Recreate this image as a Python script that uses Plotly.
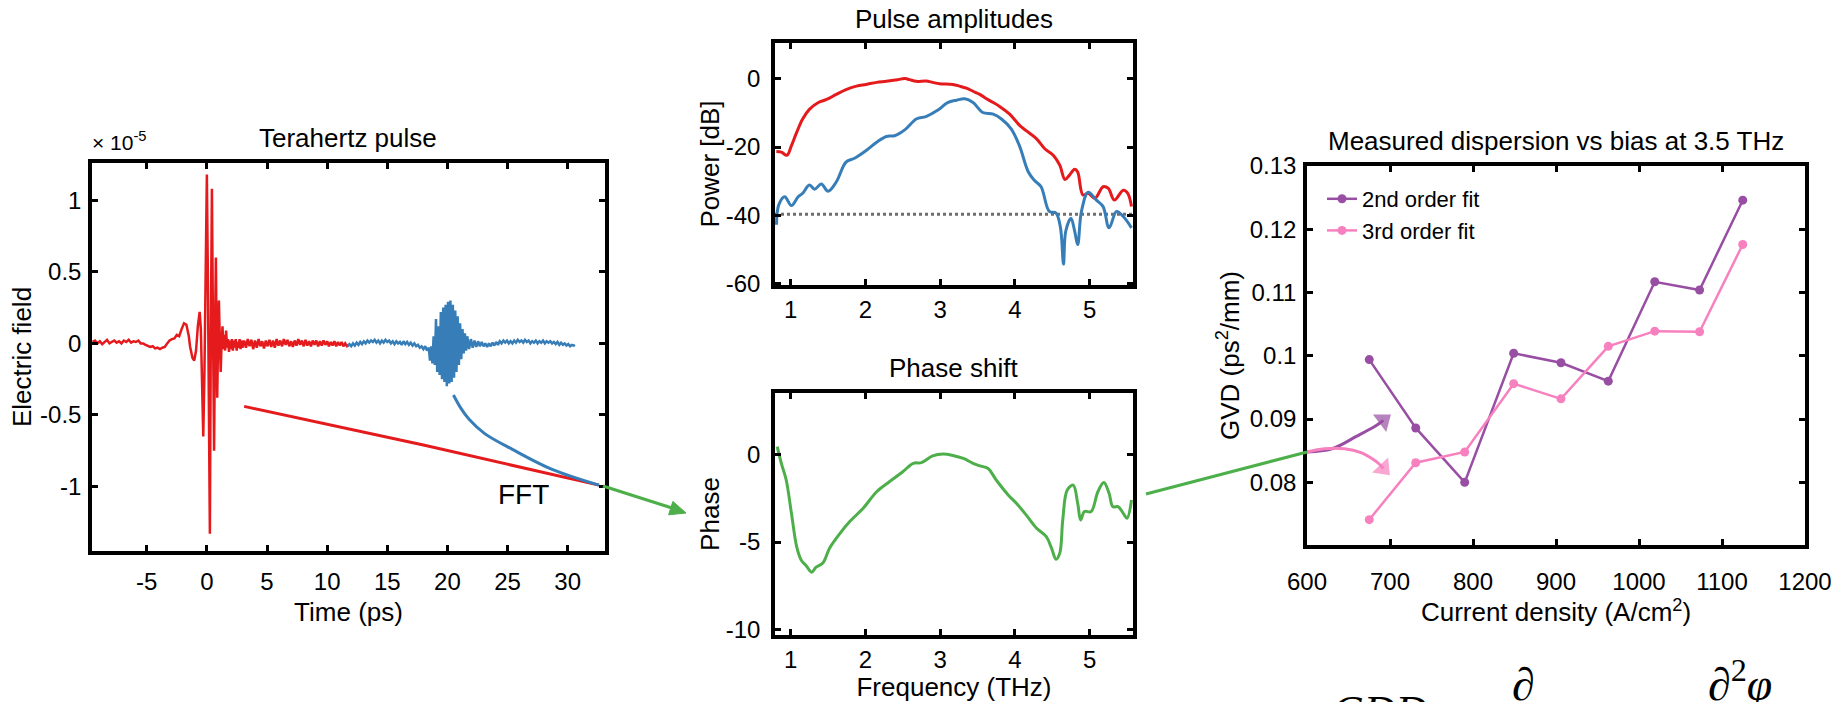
import plotly.graph_objects as go

W, H = 1841, 702
FONT = "Liberation Sans, Arial, sans-serif"
SERIF = "Liberation Serif, DejaVu Serif, serif"

# ---------------- Data: terahertz time-domain pulse (x 1e-5) ----------------
red_t = [-9.5, -9.3, -9.1, -8.9, -8.7, -8.5, -8.3, -8.1, -7.9, -7.7, -7.5, -7.3, -7.1, -6.9, -6.7,
         -6.5, -6.3, -6.1, -5.9, -5.7, -5.5,
         -5.3, -5.1, -4.9, -4.7, -4.5, -4.3, -4.1, -3.9, -3.7, -3.5, -3.3, -3.1, -2.9, -2.7, -2.5,
         -2.3, -2.1, -1.9, -1.7, -1.5,
         -1.4, -1.2, -1.05, -0.9, -0.75, -0.6, -0.5, -0.4, -0.3, -0.2, -0.1, 0.0, 0.08, 0.16, 0.25,
         0.33, 0.42, 0.5, 0.6, 0.68, 0.75, 0.8, 0.86, 0.93, 1.0, 1.07, 1.15, 1.22, 1.3, 1.37, 1.45,
         1.52, 1.6, 1.68, 1.76, 1.84, 1.92, 2.0, 2.08, 2.16, 2.24, 2.32, 2.4, 2.48, 2.56, 2.64, 2.72,
         2.8, 2.88, 2.96,
         3.1, 3.25, 3.4, 3.55, 3.7, 3.85, 4.0, 4.15, 4.3, 4.45, 4.6, 4.75, 4.9, 5.05, 5.2, 5.35, 5.5,
         5.65, 5.8, 5.95, 6.1, 6.25, 6.4, 6.55, 6.7, 6.85, 7.0, 7.15, 7.3, 7.45, 7.6, 7.75, 7.9, 8.05,
         8.2, 8.35, 8.5, 8.65, 8.8, 8.95, 9.1, 9.25, 9.4, 9.55, 9.7, 9.85, 10.0, 10.15, 10.3, 10.45,
         10.6, 10.75, 10.9, 11.05, 11.2, 11.35, 11.5, 11.65, 11.8]
red_v = [0.01, 0.02, 0.0, 0.015, -0.005, 0.01, 0.025, 0.0, 0.01, 0.02, 0.005, 0.015, 0.0, 0.02, 0.01,
         0.025, 0.005, 0.015, 0.01, 0.02, 0.0,
         0.0, -0.01, -0.015, -0.025, -0.02, -0.035, -0.03, -0.04, -0.03, -0.025, 0.0, 0.02, 0.03, 0.035, 0.06,
         0.05, 0.1, 0.14, 0.13, 0.05,
         -0.02, -0.1, -0.12, -0.05, 0.12, 0.22, 0.1, -0.3, -0.65, -0.2, 0.6, 1.18, 0.5, -0.6, -1.33,
         0.1, 1.08, 0.2, -0.75, 0.1, 0.6, 0.1, -0.38, 0.0, 0.3, 0.05, -0.2, 0.0, 0.12, -0.04, 0.06,
         -0.05, 0.09, -0.03, 0.03, -0.06, 0.02, -0.04, 0.03, -0.05, 0.02, -0.03, 0.03, -0.05, 0.01, -0.03, 0.03,
         -0.04, 0.02, -0.03,
         0.02, -0.03, 0.03, -0.02, 0.025, -0.04, 0.02, -0.03, 0.03, -0.02, 0.015, -0.035, 0.02, -0.02, 0.025, -0.025, 0.02,
         -0.03, 0.03, -0.015, 0.02, -0.02, 0.03, -0.01, 0.025, -0.02, 0.015, -0.025, 0.02, -0.015, 0.03, -0.01, 0.02, -0.02,
         0.025, -0.015, 0.015, -0.02, 0.02, -0.01, 0.02, -0.02, 0.015, -0.015, 0.02, -0.01, 0.015, -0.02, 0.01, -0.015,
         0.015, -0.02, 0.01, -0.015, 0.01, -0.02, 0.0, -0.02, -0.01]

blue_t = [11.7, 11.85, 12.0, 12.15, 12.3, 12.45, 12.6, 12.75, 12.9, 13.05, 13.2, 13.35, 13.5, 13.65, 13.8,
          13.95, 14.1, 14.25, 14.4, 14.55, 14.7, 14.85, 15.0, 15.15, 15.3, 15.45, 15.6, 15.75, 15.9, 16.05,
          16.2, 16.35, 16.5, 16.65, 16.8, 16.95, 17.1, 17.25, 17.4, 17.55, 17.7, 17.85, 18.0, 18.15, 18.3, 18.45,
          18.55, 18.65, 18.75, 18.85, 18.95, 19.05, 19.15, 19.25, 19.35, 19.45, 19.55, 19.65, 19.75, 19.85,
          19.95, 20.05, 20.15, 20.25, 20.35, 20.45, 20.55, 20.65, 20.75, 20.85, 20.95, 21.05, 21.15, 21.25,
          21.35, 21.45, 21.55, 21.65, 21.8, 21.95, 22.1, 22.25, 22.4, 22.55, 22.7, 22.85, 23.0, 23.15, 23.3,
          23.45, 23.6, 23.75, 23.9, 24.05, 24.2, 24.35, 24.5, 24.65, 24.8, 24.95, 25.1, 25.25, 25.4, 25.55,
          25.7, 25.85, 26.0, 26.15, 26.3, 26.45, 26.6, 26.75, 26.9, 27.05, 27.2, 27.35, 27.5, 27.65, 27.8,
          27.95, 28.1, 28.25, 28.4, 28.55, 28.7, 28.85, 29.0, 29.15, 29.3, 29.45, 29.6, 29.75, 29.9, 30.05,
          30.2, 30.35, 30.5, 30.6]
blue_v = [-0.02, -0.005, -0.02, 0.0, -0.015, 0.005, -0.01, 0.01, -0.005, 0.015, 0.0, 0.02, 0.005, 0.02, 0.01,
          0.025, 0.005, 0.02, 0.0, 0.02, 0.005, 0.025, 0.01, 0.02, 0.0, 0.015, -0.005, 0.015, 0.0, 0.01,
          -0.01, 0.015, -0.005, 0.01, -0.01, 0.005, -0.015, 0.0, -0.02, -0.01, -0.03, -0.02, -0.04, -0.02, -0.05, -0.03,
          -0.12, -0.02, -0.14, 0.05, -0.15, 0.17, -0.2, 0.12, -0.22, 0.22, -0.25, 0.25, -0.27, 0.27,
          -0.3, 0.29, -0.28, 0.3, -0.27, 0.27, -0.24, 0.23, -0.2, 0.19, -0.15, 0.14, -0.11, 0.1,
          -0.07, 0.07, -0.05, 0.05, -0.04, 0.03, -0.03, 0.02, -0.025, 0.015, -0.02, 0.01, -0.02, 0.0, -0.025,
          0.0, -0.02, 0.005, -0.015, 0.01, -0.01, 0.015, 0.0, 0.02, 0.005, 0.02, 0.0, 0.015, 0.0, 0.02,
          0.005, 0.025, 0.01, 0.02, 0.005, 0.025, 0.01, 0.02, 0.0, 0.015, 0.005, 0.02, 0.0, 0.015, 0.005,
          0.02, 0.0, 0.015, 0.005, 0.015, 0.0, 0.01, -0.005, 0.01, -0.01, 0.005, -0.01, 0.0, -0.015, -0.005,
          -0.02, -0.01, -0.015, -0.01]

# FFT connector curves drawn inside the time-domain panel
fft_red_t = [3.1, 18.0, 32.6]
fft_red_v = [-0.44, -0.71, -0.99]
fft_blue_t = [20.5, 21.1, 21.8, 23.1, 25.4, 28.7, 32.6]
fft_blue_v = [-0.36, -0.45, -0.53, -0.63, -0.74, -0.88, -0.99]

# ---------------- Data: spectra ----------------
amp_red_f = [0.808, 0.875, 0.95, 1.01, 1.08, 1.16, 1.25, 1.37, 1.48, 1.61, 1.74, 1.88, 2.01, 2.15, 2.28,
             2.41, 2.53, 2.59, 2.68, 2.81, 2.9, 2.99, 3.17, 3.26, 3.35, 3.44, 3.53, 3.62, 3.71, 3.80,
             3.93, 4.06, 4.15, 4.29, 4.40, 4.51, 4.60, 4.67, 4.73, 4.80, 4.84, 4.91, 4.98, 5.07, 5.18,
             5.25, 5.33, 5.45, 5.51, 5.56]
amp_red_db = [-21.3, -21.5, -22.4, -19.6, -15.7, -11.8, -9.0, -7.0, -6.1, -4.6, -3.2, -2.2, -1.7, -1.1, -0.8,
              -0.4, 0.0, -0.3, -0.8, -0.7, -1.1, -1.5, -1.7, -2.2, -2.8, -3.7, -4.6, -5.9, -7.0, -8.2,
              -10.4, -13.6, -15.2, -17.6, -20.5, -22.3, -25.3, -29.5, -28.2, -26.5, -27.3, -34.0, -33.5, -35.0, -31.6,
              -32.1, -35.5, -32.6, -33.5, -37.4]
amp_blue_f = [0.81, 0.84, 0.92, 1.01, 1.10, 1.16, 1.25, 1.32, 1.41, 1.50, 1.61, 1.74, 1.86, 2.01, 2.15,
              2.28, 2.39, 2.53, 2.68, 2.81, 2.97, 3.10, 3.22, 3.33, 3.44, 3.57, 3.71, 3.82, 3.95, 4.06,
              4.18, 4.26, 4.35, 4.46, 4.55, 4.61, 4.65, 4.68, 4.75, 4.80, 4.84, 4.89, 4.98, 5.09, 5.18,
              5.26, 5.36, 5.45, 5.56]
amp_blue_db = [-42.7, -36.9, -34.5, -37.1, -34.5, -33.5, -31.1, -32.3, -30.8, -32.9, -30.2, -24.4, -23.2, -21.0, -18.6,
               -16.9, -16.7, -14.9, -11.8, -11.1, -9.2, -7.0, -6.3, -5.9, -7.0, -9.9, -10.4, -11.8, -14.7, -19.6,
               -27.3, -29.7, -31.6, -38.8, -39.3, -43.6, -54.2, -44.6, -40.8, -44.6, -48.5, -38.8, -33.2, -35.5, -37.4,
               -43.6, -38.8, -40.3, -43.6]
noise_floor_db = -39.6

phase_f = [0.82, 0.875, 0.94, 1.01, 1.08, 1.14, 1.21, 1.28, 1.34, 1.43, 1.52, 1.66, 1.79, 1.97, 2.15,
           2.32, 2.50, 2.64, 2.75, 2.90, 3.04, 3.17, 3.31, 3.44, 3.53, 3.64, 3.75, 3.91, 4.02, 4.15,
           4.29, 4.42, 4.49, 4.55, 4.60, 4.64, 4.70, 4.78, 4.84, 4.88, 4.93, 5.02, 5.11, 5.19, 5.26,
           5.31, 5.38, 5.45, 5.50, 5.56]
phase_v = [0.44, -0.51, -1.46, -3.36, -5.26, -6.02, -6.36, -6.72, -6.43, -6.2, -5.35, -4.5, -3.83, -3.07, -2.13,
           -1.56, -0.99, -0.51, -0.47, -0.09, 0.02, -0.06, -0.23, -0.51, -0.66, -0.8, -1.46, -2.31, -2.79, -3.45,
           -4.21, -4.69, -5.35, -5.98, -5.64, -3.74, -2.03, -1.75, -2.79, -3.74, -3.26, -3.26, -2.13, -1.61, -2.22,
           -2.98, -2.98, -3.36, -3.64, -2.6]

# ---------------- Data: dispersion vs bias ----------------
current_density = [675, 731, 790, 849, 906, 963, 1019, 1073, 1125]
gvd_2nd = [0.0994, 0.0886, 0.0800, 0.1004, 0.0989, 0.0960, 0.1117, 0.1104, 0.1246]
gvd_3rd = [0.0741, 0.0831, 0.0848, 0.0956, 0.0932, 0.1015, 0.1039, 0.1038, 0.1176]
arrow_purple_x = [600, 630, 660, 680, 687, 692]
arrow_purple_y = [0.0848, 0.0853, 0.0873, 0.0887, 0.0893, 0.0898]
arrow_pink_x = [600, 621, 645, 665, 680, 687, 692]
arrow_pink_y = [0.0848, 0.0853, 0.0853, 0.0847, 0.0836, 0.0829, 0.0822]

RED, BLUE, GREEN = "#e41a1c", "#377eb8", "#4daf4a"
PURPLE, PINK = "#984ea3", "#f781bf"


def px(x):
    return x / W


def py(y):
    return 1 - y / H


def head_marker(n, color):
    # arrowhead only on the last point, oriented along the incoming segment
    return dict(symbol=["circle"] * (n - 1) + ["triangle-up"], size=[0] * (n - 1) + [19],
                angleref="previous", color=color, line=dict(width=0))


fig = go.Figure()

# Time-domain panel
fig.add_trace(go.Scatter(x=red_t, y=red_v, mode="lines", line=dict(color=RED, width=2.5),
                         showlegend=False, xaxis="x", yaxis="y"))
fig.add_trace(go.Scatter(x=blue_t, y=blue_v, mode="lines", line=dict(color=BLUE, width=2.5),
                         showlegend=False, xaxis="x", yaxis="y"))
fig.add_trace(go.Scatter(x=fft_red_t, y=fft_red_v, mode="lines", line=dict(color=RED, width=3),
                         showlegend=False, xaxis="x", yaxis="y"))
fig.add_trace(go.Scatter(x=fft_blue_t, y=fft_blue_v, mode="lines", line=dict(color=BLUE, width=3, shape="spline"),
                         showlegend=False, xaxis="x", yaxis="y"))

# Pulse amplitudes
fig.add_trace(go.Scatter(x=[0.79, 5.58], y=[noise_floor_db, noise_floor_db], mode="lines",
                         line=dict(color="#6e6e6e", width=3, dash="dot"), showlegend=False,
                         xaxis="x2", yaxis="y2"))
fig.add_trace(go.Scatter(x=amp_red_f, y=amp_red_db, mode="lines", line=dict(color=RED, width=3, shape="spline"),
                         showlegend=False, xaxis="x2", yaxis="y2"))
fig.add_trace(go.Scatter(x=amp_blue_f, y=amp_blue_db, mode="lines", line=dict(color=BLUE, width=3, shape="spline"),
                         showlegend=False, xaxis="x2", yaxis="y2"))

# Phase shift
fig.add_trace(go.Scatter(x=phase_f, y=phase_v, mode="lines", line=dict(color=GREEN, width=3, shape="spline"),
                         showlegend=False, xaxis="x3", yaxis="y3"))

# Dispersion vs bias
fig.add_trace(go.Scatter(x=arrow_purple_x, y=arrow_purple_y, mode="lines+markers",
                         line=dict(color=PURPLE, width=3, shape="spline"),
                         marker=head_marker(len(arrow_purple_x), PURPLE), showlegend=False,
                         cliponaxis=False, xaxis="x4", yaxis="y4"))
fig.add_trace(go.Scatter(x=arrow_pink_x, y=arrow_pink_y, mode="lines+markers",
                         line=dict(color=PINK, width=3, shape="spline"),
                         marker=head_marker(len(arrow_pink_x), PINK), showlegend=False,
                         cliponaxis=False, xaxis="x4", yaxis="y4"))
fig.add_trace(go.Scatter(x=current_density, y=gvd_2nd, mode="lines+markers", name="2nd order fit",
                         line=dict(color=PURPLE, width=2.5), marker=dict(size=9, color=PURPLE),
                         xaxis="x4", yaxis="y4"))
fig.add_trace(go.Scatter(x=current_density, y=gvd_3rd, mode="lines+markers", name="3rd order fit",
                         line=dict(color=PINK, width=2.5), marker=dict(size=9, color=PINK),
                         xaxis="x4", yaxis="y4"))

TICK = 24
tickfont = dict(family=FONT, size=TICK, color="black")
titlefont = dict(family=FONT, size=26, color="black")


def ax(domain, rng, tickvals, ticktext, anchor, title=None, standoff=10, lab=10):
    d = dict(domain=domain, range=rng, tickvals=tickvals, ticktext=ticktext, anchor=anchor,
             showline=True, linecolor="black", linewidth=3.5, mirror="allticks",
             ticks="inside", ticklen=6, tickwidth=2.5, tickcolor="black", automargin=False,
             showgrid=False, zeroline=False, tickfont=tickfont, ticklabelstandoff=lab)
    if title:
        d["title"] = dict(text=title, font=titlefont, standoff=standoff)
    return d


fig.update_layout(
    width=W, height=H,
    margin=dict(l=0, r=0, t=0, b=0, pad=0, autoexpand=False),
    paper_bgcolor="white", plot_bgcolor="white",
    font=dict(family=FONT, color="black"),
    xaxis=ax([px(92), px(605)], [-9.55, 33.1], [-5, 0, 5, 10, 15, 20, 25, 30],
             ["-5", "0", "5", "10", "15", "20", "25", "30"], "y", "Time (ps)", 10, 6),
    yaxis=ax([py(551), py(163)], [-1.45, 1.26], [-1, -0.5, 0, 0.5, 1],
             ["-1", "-0.5", "0", "0.5", "1"], "x", "Electric field", 2, 2),
    xaxis2=ax([px(775), px(1133)], [0.79, 5.58], [1, 2, 3, 4, 5], ["1", "2", "3", "4", "5"], "y2", lab=0),
    yaxis2=ax([py(285), py(43)], [-60.3, 10.4], [-60, -40, -20, 0], ["-60", "-40", "-20", "0"], "x2",
              "Power [dB]", 0, 6),
    xaxis3=ax([px(775), px(1133)], [0.79, 5.58], [1, 2, 3, 4, 5], ["1", "2", "3", "4", "5"], "y3",
              "Frequency (THz)", 4, 0),
    yaxis3=ax([py(635), py(393)], [-10.3, 3.5], [-10, -5, 0], ["-10", "-5", "0"], "x3", "Phase", 0, 6),
    xaxis4=ax([px(1307), px(1805)], [600, 1200], [600, 700, 800, 900, 1000, 1100, 1200],
              ["600", "700", "800", "900", "1000", "1100", "1200"], "y4",
              "Current density (A/cm<sup>2</sup>)", 4, 12),
    yaxis4=ax([py(545), py(166)], [0.0701, 0.13], [0.08, 0.09, 0.1, 0.11, 0.12, 0.13],
              ["0.08", "0.09", "0.1", "0.11", "0.12", "0.13"], "x4", "GVD (ps<sup>2</sup>/mm)", 4, 2),
    legend=dict(x=px(1322), y=py(178), xanchor="left", yanchor="top", bgcolor="rgba(0,0,0,0)",
                font=dict(family=FONT, size=22, color="black"), tracegroupgap=2),
    showlegend=True,
)

annotations = [
    dict(text="Terahertz pulse", x=px(348), y=py(138), font=dict(family=FONT, size=26, color="black")),
    dict(text="Pulse amplitudes", x=px(954), y=py(19), font=dict(family=FONT, size=26, color="black")),
    dict(text="Phase shift", x=px(954), y=py(368), font=dict(family=FONT, size=26, color="black")),
    dict(text="Measured dispersion vs bias at 3.5 THz", x=px(1556), y=py(141),
         font=dict(family=FONT, size=26, color="black")),
    dict(text="× 10<sup>-5</sup>", x=px(90), y=py(141), xanchor="left",
         font=dict(family=FONT, size=21, color="black")),
    dict(text="FFT", x=px(523), y=py(494), font=dict(family=FONT, size=28, color="black")),
    dict(text="<i>GDD</i>", x=px(1380), y=py(685), yanchor="top",
         font=dict(family=SERIF, size=44, color="black")),
    dict(text="∂", x=px(1523), y=py(657), yanchor="top",
         font=dict(family=SERIF, size=46, color="black")),
    dict(text="∂<sup>2</sup><i>φ</i>", x=px(1740), y=py(650), yanchor="top",
         font=dict(family=SERIF, size=46, color="black")),
]
for a in annotations:
    a.setdefault("xref", "paper")
    a.setdefault("yref", "paper")
    a.setdefault("showarrow", False)
    a.setdefault("yanchor", "middle")
    a.setdefault("xanchor", "center")
fig.update_layout(annotations=annotations)

# green connectors between panels (paper coordinates)
fig.add_shape(type="line", xref="paper", yref="paper", x0=px(603), y0=py(486), x1=px(672), y1=py(508),
              line=dict(color=GREEN, width=3))
fig.add_shape(type="path", xref="paper", yref="paper",
              path=f"M {px(686)},{py(513)} L {px(668.6)},{py(514.8)} L {px(672.9)},{py(501.4)} Z",
              fillcolor=GREEN, line=dict(color=GREEN, width=1))
fig.add_shape(type="line", xref="paper", yref="paper", x0=px(1146), y0=py(494), x1=px(1307), y1=py(452),
              line=dict(color=GREEN, width=3))

fig.write_html("out.html")
